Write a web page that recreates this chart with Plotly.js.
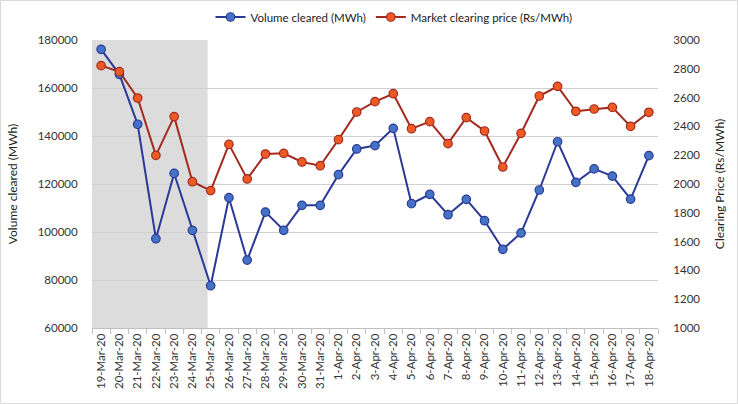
<!DOCTYPE html>
<html>
<head>
<meta charset="utf-8">
<script src="https://cdn.plot.ly/plotly-3.0.1.min.js"></script>
<style>html,body{margin:0;padding:0;background:#fff;}#chart{width:738px;height:404px;}</style>
</head>
<body>
<div id="chart"></div>
<script>
var dates = ["19-Mar-20","20-Mar-20","21-Mar-20","22-Mar-20","23-Mar-20","24-Mar-20","25-Mar-20","26-Mar-20","27-Mar-20","28-Mar-20","29-Mar-20","30-Mar-20","31-Mar-20","1-Apr-20","2-Apr-20","3-Apr-20","4-Apr-20","5-Apr-20","6-Apr-20","7-Apr-20","8-Apr-20","9-Apr-20","10-Apr-20","11-Apr-20","12-Apr-20","13-Apr-20","14-Apr-20","15-Apr-20","16-Apr-20","17-Apr-20","18-Apr-20"];
var volumeCleared = [176100,165700,144900,97200,124400,100700,77600,114300,88300,108300,100700,111100,111100,123900,134600,136000,143200,111800,115700,107200,113600,104700,92800,99600,117500,137600,120700,126300,123300,113700,131800];
var clearingPrice = [2822,2780,2597,2199,2468,2016,1954,2275,2035,2208,2213,2153,2127,2308,2500,2572,2627,2384,2433,2280,2461,2368,2118,2352,2611,2678,2505,2521,2532,2400,2498];
var lockdownEndIndex = 5.83;

var font = "Lato, 'Open Sans', sans-serif";
var L = 92, R = 658, T = 40, B = 328, W = R - L, H = B - T;

var traces = [
  {
    x: dates, y: volumeCleared, name: "Volume cleared (MWh)", type: "scatter", mode: "lines+markers",
    line: {color: "#2A3A96", width: 2},
    marker: {size: 8.5, color: "#4472C4", line: {color: "#2A3A96", width: 1.2}},
    yaxis: "y"
  },
  {
    x: dates, y: clearingPrice, name: "Market clearing price (Rs/MWh)", type: "scatter", mode: "lines+markers",
    line: {color: "#A32B1F", width: 2},
    marker: {size: 8.5, color: "#ED5A24", line: {color: "#A32B1F", width: 1.2}},
    yaxis: "y2"
  }
];

var layout = {
  width: 738, height: 404,
  margin: {l: L, r: 738 - R, t: T, b: 404 - B, pad: 0},
  paper_bgcolor: "#fff", plot_bgcolor: "rgba(0,0,0,0)",
  font: {family: font, size: 11, color: "#333"},
  showlegend: true,
  legend: {
    orientation: "h", xref: "container", yref: "container",
    x: 394/738, xanchor: "center", y: 1 - 17/404, yanchor: "middle",
    font: {family: font, size: 11.5, color: "#222"},
    itemwidth: 30, tracegroupgap: 0
  },
  xaxis: {
    type: "category", range: [-0.5, 30.5],
    tickangle: -90, tickson: "boundaries", ticks: "outside", ticklen: 5, tickcolor: "#BFBFBF",
    showline: true, linecolor: "#BFBFBF", linewidth: 1,
    showgrid: false, zeroline: false,
    tickfont: {family: font, size: 11.5, color: "#333"}
  },
  yaxis: {
    range: [60000, 180000], dtick: 20000, tick0: 60000, tickformat: "d",
    showgrid: true, gridcolor: "#D0D0D0", gridwidth: 1,
    zeroline: false, showline: false, ticks: "outside", ticklen: 11, tickcolor: "rgba(0,0,0,0)",
    tickfont: {family: font, size: 11.5, color: "#333"},
    title: {text: "Volume cleared (MWh)", font: {family: font, size: 12, color: "#222"}, standoff: 17}
  },
  yaxis2: {
    range: [1000, 3000], dtick: 200, tick0: 1000, tickformat: "d",
    overlaying: "y", side: "right",
    showgrid: false, zeroline: false, showline: false, ticks: "outside", ticklen: 12, tickcolor: "rgba(0,0,0,0)",
    tickfont: {family: font, size: 11.5, color: "#333"},
    title: {text: "Clearing Price (Rs/MWh)", font: {family: font, size: 12, color: "#222"}, standoff: 16}
  },
  shapes: [
    {type: "rect", xref: "x", yref: "y", x0: -0.5, x1: lockdownEndIndex, y0: 60000, y1: 180000,
     fillcolor: "#DCDCDC", line: {width: 0}, layer: "below"},
    {type: "rect", xref: "paper", yref: "paper",
     x0: (0.5 - L)/W, x1: (737.5 - L)/W, y0: (B - 403.5)/H, y1: (B - 0.5)/H,
     line: {color: "#D9D9D9", width: 1}, fillcolor: "rgba(0,0,0,0)", layer: "above"}
  ]
};

Plotly.newPlot("chart", traces, layout, {displayModeBar: false, staticPlot: true});
</script>
</body>
</html>
